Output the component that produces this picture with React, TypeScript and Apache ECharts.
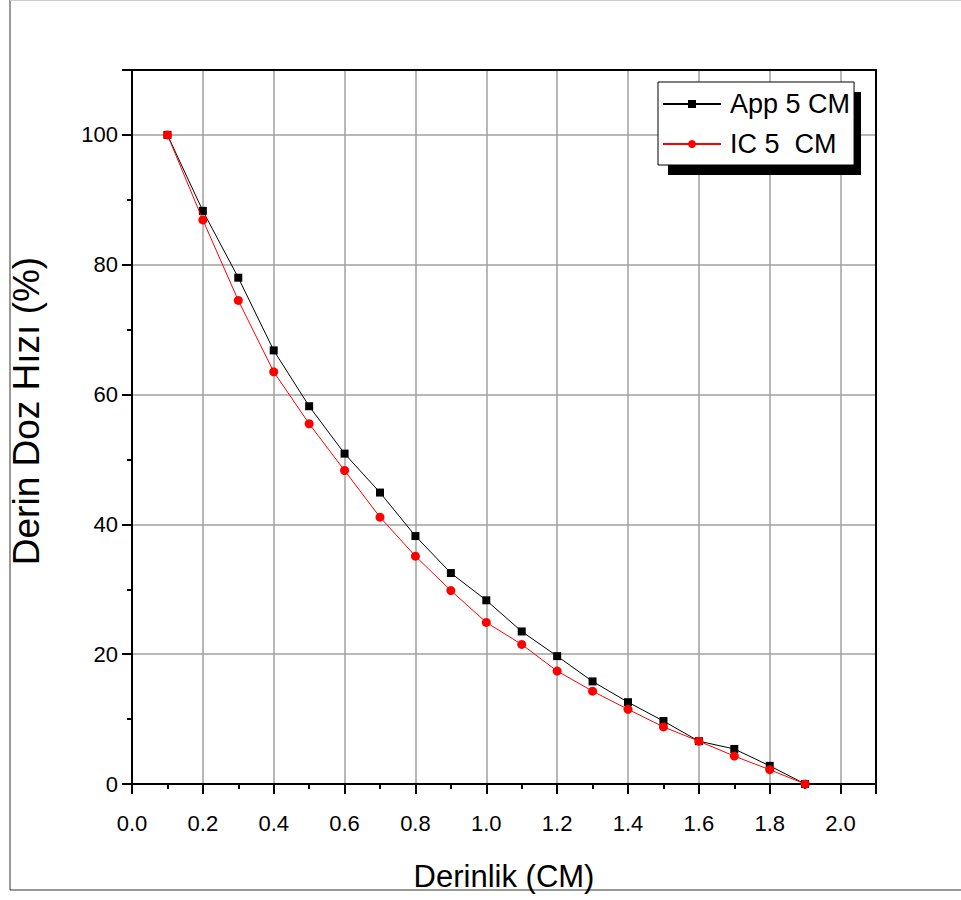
import React, { useEffect, useRef } from "react";
import * as echarts from "echarts";

const depths = [0.1, 0.2, 0.3, 0.4, 0.5, 0.6, 0.7, 0.8, 0.9, 1.0, 1.1, 1.2, 1.3, 1.4, 1.5, 1.6, 1.7, 1.8, 1.9];
const appValues = [100, 88.3, 78.0, 66.8, 58.2, 50.9, 44.9, 38.2, 32.5, 28.3, 23.5, 19.7, 15.8, 12.6, 9.7, 6.6, 5.4, 2.8, 0];
const icValues = [100, 86.9, 74.5, 63.5, 55.5, 48.3, 41.1, 35.1, 29.8, 24.9, 21.5, 17.4, 14.3, 11.5, 8.8, 6.6, 4.3, 2.2, 0];
const seriesNames = ["App 5 CM", "IC 5  CM"];
const xTitle = "Derinlik (CM)";
const yTitle = "Derin Doz Hızı (%)";

export default function App() {
  const ref = useRef<HTMLDivElement>(null);
  useEffect(() => {
    if (!ref.current) return;
    const chart = echarts.init(ref.current, null, { renderer: "svg" });
    const font = "'Liberation Sans', Arial, sans-serif";
    const gridLine = { show: true, lineStyle: { color: "#a0a0a0", width: 1.5 } };
    chart.setOption({
      animation: false,
      backgroundColor: "#ffffff",
      grid: { left: 131, right: 85, top: 70, bottom: 116, containLabel: false },
      legend: {
        orient: "vertical",
        left: 658,
        top: 82,
        padding: [7, 4, 6, 4],
        itemWidth: 58,
        itemHeight: 10,
        itemGap: 10,
        backgroundColor: "#ffffff",
        borderColor: "#000000",
        borderWidth: 1,
        borderRadius: 0,
        textStyle: { fontFamily: font, fontSize: 27, color: "#000", lineHeight: 30, padding: [0, 0, 0, 4] },
        data: seriesNames,
      },
      xAxis: [
        {
          type: "value",
          min: 0,
          max: 2.1,
          interval: 0.2,
          name: xTitle,
          nameLocation: "middle",
          nameGap: 77,
          nameTextStyle: { fontFamily: font, fontSize: 31, color: "#000" },
          axisLine: { show: true, onZero: false, lineStyle: { color: "#000", width: 2 } },
          axisTick: { show: true, length: 10, lineStyle: { color: "#000", width: 2 } },
          minorTick: { show: true, splitNumber: 2, length: 5, lineStyle: { color: "#000", width: 2 } },
          axisLabel: {
            fontFamily: font,
            fontSize: 22,
            color: "#000",
            margin: 28,
            showMaxLabel: false,
            formatter: (v: number) => v.toFixed(1),
          },
          splitLine: gridLine,
        },
        {
          type: "value",
          position: "top",
          min: 0,
          max: 2.1,
          axisLine: { show: true, onZero: false, lineStyle: { color: "#000", width: 2 } },
          axisTick: { show: false },
          axisLabel: { show: false },
          splitLine: { show: false },
        },
      ],
      yAxis: [
        {
          type: "value",
          min: 0,
          max: 110,
          interval: 20,
          name: yTitle,
          nameLocation: "middle",
          nameGap: 87,
          nameRotate: 90,
          nameTextStyle: { fontFamily: font, fontSize: 37, color: "#000", padding: [0, 0, 0, 32] },
          axisLine: { show: true, onZero: false, lineStyle: { color: "#000", width: 2 } },
          axisTick: { show: true, length: 10, lineStyle: { color: "#000", width: 2 } },
          minorTick: { show: true, splitNumber: 2, length: 5, lineStyle: { color: "#000", width: 2 } },
          axisLabel: { fontFamily: font, fontSize: 22, color: "#000", margin: 14, showMaxLabel: false },
          splitLine: gridLine,
        },
        {
          type: "value",
          position: "right",
          min: 0,
          max: 110,
          axisLine: { show: true, onZero: false, lineStyle: { color: "#000", width: 2 } },
          axisTick: { show: false },
          axisLabel: { show: false },
          splitLine: { show: false },
        },
      ],
      graphic: [
        { type: "line", shape: { x1: 10, y1: 0, x2: 10, y2: 890 }, style: { stroke: "#333", lineWidth: 1 }, z: 0 },
        { type: "line", shape: { x1: 10, y1: 890, x2: 961, y2: 890 }, style: { stroke: "#333", lineWidth: 1 }, z: 0 },
        { type: "line", shape: { x1: 10, y1: 0.5, x2: 961, y2: 0.5 }, style: { stroke: "#cccccc", lineWidth: 1 }, z: 0 },
        { type: "rect", shape: { x: 668, y: 92, width: 193, height: 83 }, style: { fill: "#000" }, z: 3 },
      ],
      series: [
        {
          name: seriesNames[0],
          type: "line",
          data: depths.map((d, i) => [d, appValues[i]]),
          symbol: "rect",
          symbolSize: 8,
          itemStyle: { color: "#000000" },
          lineStyle: { color: "#000000", width: 1 },
          z: 5,
        },
        {
          name: seriesNames[1],
          type: "line",
          data: depths.map((d, i) => [d, icValues[i]]),
          symbol: "circle",
          symbolSize: 9,
          itemStyle: { color: "#ff0000" },
          lineStyle: { color: "#ff0000", width: 1 },
          z: 6,
        },
      ],
    });
    return () => chart.dispose();
  }, []);
  return (
    <div
      ref={ref}
      style={{ position: "absolute", left: 0, top: 0, width: 961, height: 900 }}
    />
  );
}
